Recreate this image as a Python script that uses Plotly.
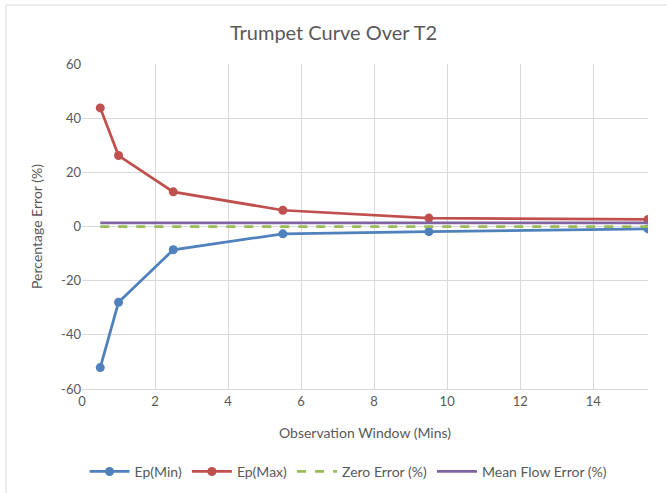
import plotly.graph_objects as go

x_window = [0.5, 1, 2.5, 5.5, 9.5, 15.5]
ep_min = [-52.1, -28.0, -8.6, -2.7, -1.9, -0.9]
ep_max = [43.8, 26.2, 12.8, 6.0, 3.1, 2.6]
zero_error = [0, 0, 0, 0, 0, 0]
mean_flow_error = [1.35, 1.35, 1.35, 1.35, 1.35, 1.35]
y_ticks = [-60, -40, -20, 0, 20, 40, 60]
y_tick_labels = ["-60", "-40", "-20", "0", "20", "40", "60"]

FONT = "Lato"
TXT = "#595959"
GRID = "#d9d9d9"

fig = go.Figure()
fig.add_trace(go.Scatter(x=x_window, y=ep_min, name="Ep(Min)", mode="lines+markers",
                         line=dict(color="#4F81BD", width=2.75),
                         marker=dict(size=9, color="#4F81BD")))
fig.add_trace(go.Scatter(x=x_window, y=ep_max, name="Ep(Max)", mode="lines+markers",
                         line=dict(color="#C0504D", width=2.75),
                         marker=dict(size=9, color="#C0504D")))
fig.add_trace(go.Scatter(x=x_window, y=zero_error, name="Zero Error (%)", mode="lines",
                         line=dict(color="#9BBB59", width=2.75, dash="dash")))
fig.add_trace(go.Scatter(x=x_window, y=mean_flow_error, name="Mean Flow Error (%)", mode="lines",
                         line=dict(color="#8064A2", width=2.75)))

fig.update_layout(
    width=667, height=493,
    margin=dict(l=82, r=19, t=64, b=104, autoexpand=False),
    paper_bgcolor="white", plot_bgcolor="white",
    font=dict(family=FONT, color=TXT, size=13),
    title=dict(text="Trumpet Curve Over T2", x=0.5, xanchor="center", y=0.933, yanchor="middle",
               font=dict(size=20, color=TXT, family=FONT)),
    showlegend=True,
    legend=dict(orientation="h", x=0.471, xanchor="center", y=-0.255, yanchor="middle",
                font=dict(size=14, color=TXT, family=FONT), itemwidth=40, traceorder="normal"),
    shapes=[dict(type="rect", xref="paper", yref="paper", x0=-0.1343, y0=-0.4, x1=1.1, y1=1.1815,
                 line=dict(color="#d9d9d9", width=1), layer="below")],
)
fig.update_xaxes(range=[0, 15.5], dtick=2, tick0=0, showgrid=True, gridcolor=GRID, gridwidth=1,
                 zeroline=False, showline=True, linecolor=GRID, ticks="", automargin=False,
                 title=dict(text="Observation Window (Mins)", font=dict(size=14, color=TXT), standoff=20),
                 tickfont=dict(size=13, color=TXT))
fig.update_yaxes(range=[-60, 60], tickmode="array", tickvals=y_ticks, ticktext=y_tick_labels,
                 showgrid=True, gridcolor=GRID, gridwidth=1, automargin=False,
                 zeroline=False, showline=False, ticks="",
                 title=dict(text="Percentage Error (%)", font=dict(size=14, color=TXT), standoff=15),
                 tickfont=dict(size=13, color=TXT))

fig.write_html("out.html", config={"displayModeBar": False},
               post_script="document.body.style.margin='0';document.body.style.padding='0';")
